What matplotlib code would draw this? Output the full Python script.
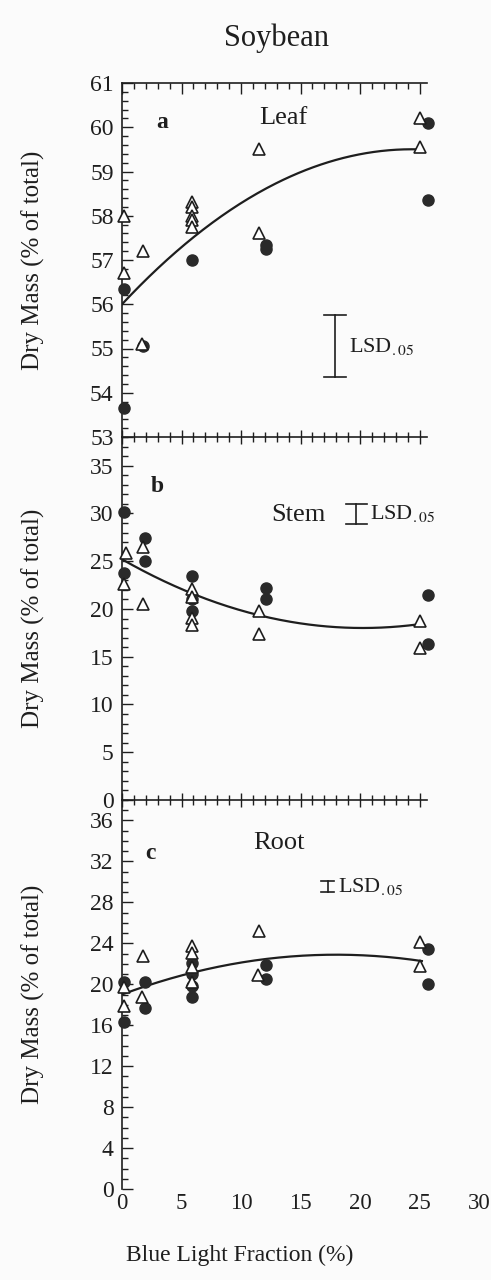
import numpy as np
import matplotlib
matplotlib.use("Agg")
import matplotlib.pyplot as plt
from matplotlib.ticker import MultipleLocator, FixedLocator

plt.rcParams['font.family'] = ['Liberation Serif', 'DejaVu Serif']
plt.rcParams['mathtext.fontset'] = 'stix'

INK = '#1e1e1e'

# --- Leaf ---
leaf_tri_x = [0.2, 1.8, 0.2, 1.7, 5.9, 5.9, 5.9, 5.9, 5.9, 11.5, 11.5, 25.0, 25.0]
leaf_tri_y = [58.0, 57.2, 56.7, 55.1, 58.3, 58.2, 58.0, 57.9, 57.75, 59.5, 57.6, 60.2, 59.55]
leaf_dot_x = [0.2, 0.2, 1.8, 5.9, 12.1, 12.1, 25.7, 25.7]
leaf_dot_y = [56.35, 53.65, 55.05, 57.0, 57.35, 57.25, 60.1, 58.35]
leaf_fit = [-0.0059, 0.2875, 56.0]      # quadratic coefficients
leaf_lsd = (17.9, 54.35, 55.75)

# --- Stem ---
stem_tri_x = [0.3, 0.2, 1.8, 1.8, 5.9, 5.9, 5.9, 5.9, 11.5, 11.5, 25.0, 25.0]
stem_tri_y = [25.9, 22.6, 26.5, 20.5, 22.1, 21.2, 19.1, 18.3, 19.8, 17.4, 18.7, 15.9]
stem_dot_x = [0.2, 0.2, 1.9, 1.9, 5.9, 5.9, 5.9, 12.1, 12.1, 25.7, 25.7]
stem_dot_y = [30.2, 23.8, 27.4, 25.0, 23.4, 21.0, 19.8, 22.2, 21.0, 21.5, 16.3]
stem_fit = [0.01757, -0.711, 25.2]
stem_lsd = (19.7, 28.9, 31.0)

# --- Root ---
root_tri_x = [0.2, 0.2, 1.8, 1.7, 5.9, 5.9, 5.9, 5.9, 11.5, 11.4, 25.0, 25.0]
root_tri_y = [19.7, 17.9, 22.8, 18.8, 23.7, 23.1, 21.7, 20.2, 25.2, 20.9, 24.1, 21.8]
root_dot_x = [0.2, 0.2, 1.9, 1.9, 5.9, 5.9, 5.9, 5.9, 12.1, 12.1, 25.7, 25.7]
root_dot_y = [20.2, 16.35, 20.2, 17.7, 22.1, 21.0, 19.8, 18.8, 21.9, 20.5, 23.4, 20.0]
root_fit = [-0.012, 0.432, 19.0]
root_lsd = (17.3, 29.0, 30.1)

panels = [
    dict(letter='a', organ='Leaf', tx=leaf_tri_x, ty=leaf_tri_y, dx=leaf_dot_x, dy=leaf_dot_y,
         fit=leaf_fit, lsd=leaf_lsd, ylim=(53, 61), major=1, minor=0.2,
         letter_xy=(3.4, 60.1), organ_xy=(13.6, 60.2), lsd_w=0.9,
         box=(83, 437)),
    dict(letter='b', organ='Stem', tx=stem_tri_x, ty=stem_tri_y, dx=stem_dot_x, dy=stem_dot_y,
         fit=stem_fit, lsd=stem_lsd, ylim=(0, 38), major=5, minor=1,
         letter_xy=(3.0, 32.8), organ_xy=(14.8, 29.8), lsd_w=0.85,
         box=(437, 800)),
    dict(letter='c', organ='Root', tx=root_tri_x, ty=root_tri_y, dx=root_dot_x, dy=root_dot_y,
         fit=root_fit, lsd=root_lsd, ylim=(0, 38), major=4, minor=1,
         letter_xy=(2.4, 32.8), organ_xy=(13.2, 33.8), lsd_w=0.55,
         box=(800, 1189)),
]

W, H = 491, 1280
fig = plt.figure(figsize=(W / 100, H / 100), dpi=100, facecolor='#fbfbfb')

left_px, right_px = 122, 479
for i, p in enumerate(panels):
    top, bot = p['box']
    ax = fig.add_axes([left_px / W, 1 - bot / H, (right_px - left_px) / W, (bot - top) / H])
    ax.set_facecolor('none')
    ax.set_xlim(0, 30)
    ax.set_ylim(*p['ylim'])

    xs = np.linspace(0, 25.2, 200)
    ax.plot(xs, np.polyval(p['fit'], xs), color=INK, lw=1.6, zorder=2)
    ax.plot(p['dx'], p['dy'], 'o', ms=8, mfc='#2a2a2a', mec='#2a2a2a', zorder=3, clip_on=False)
    ax.plot(p['tx'], p['ty'], '^', ms=8.5, mfc='white', mec=INK, mew=1.2, zorder=4, clip_on=False)

    # LSD bar
    lx, lo, hi = p['lsd']
    w = p['lsd_w']
    ax.plot([lx, lx], [lo, hi], color=INK, lw=1.2)
    ax.plot([lx - w, lx + w], [lo, lo], color=INK, lw=1.2)
    ax.plot([lx - w, lx + w], [hi, hi], color=INK, lw=1.2)
    ax.text(lx + w + 0.3, (lo + hi) / 2, r'LSD$_{.05}$', fontsize=16, color=INK,
            va='center', ha='left')

    ax.text(*p['letter_xy'], p['letter'], fontsize=17, fontweight='bold', color=INK,
            ha='center', va='center')
    ax.text(*p['organ_xy'], p['organ'], fontsize=19, color=INK, ha='center', va='center')

    for s in ['right', 'bottom']:
        ax.spines[s].set_visible(False)
    ax.spines['top'].set_bounds(0, 25.6)
    for s in ['left', 'top']:
        ax.spines[s].set_linewidth(1.2)
        ax.spines[s].set_color(INK)

    ax.yaxis.set_major_locator(MultipleLocator(p['major']))
    ax.yaxis.set_minor_locator(MultipleLocator(p['minor']))
    ax.tick_params(axis='y', which='both', direction='in', left=True, right=False,
                   labelsize=17, colors=INK, width=1.0, pad=6)
    ax.tick_params(axis='y', which='major', length=8)
    ax.tick_params(axis='y', which='minor', length=4)

    ax.xaxis.set_minor_locator(FixedLocator(np.arange(0, 26, 1)))
    tdir = 'in' if i == 0 else 'inout'
    if i < 2:
        ax.set_xticks(np.arange(0, 26, 5))
        ax.tick_params(axis='x', which='both', bottom=False, top=True,
                       labelbottom=False, labeltop=False, direction=tdir, colors=INK, width=1.0)
    else:
        ax.set_xticks(np.arange(0, 31, 5))
        ax.tick_params(axis='x', which='both', bottom=False, top=True,
                       labelbottom=True, labeltop=False, direction=tdir, colors=INK,
                       width=1.0, labelsize=16.5, pad=-2)
        ax.xaxis.get_major_ticks()[-1].tick2line.set_visible(False)
    ax.tick_params(axis='x', which='major', length=10 if i else 8)
    ax.tick_params(axis='x', which='minor', length=7 if i else 4)

    ax.set_ylabel('Dry Mass (% of total)', fontsize=18, color=INK)
    ax.yaxis.set_label_coords(-0.215, 0.5)

fig.text(276 / W, 1 - 38 / H, 'Soybean', fontsize=22, color=INK, ha='center', va='center')
fig.text(240 / W, 1 - 1255 / H, 'Blue Light Fraction (%)', fontsize=17, color=INK,
         ha='center', va='center')

fig.savefig('out.png', dpi=100, facecolor=fig.get_facecolor())
